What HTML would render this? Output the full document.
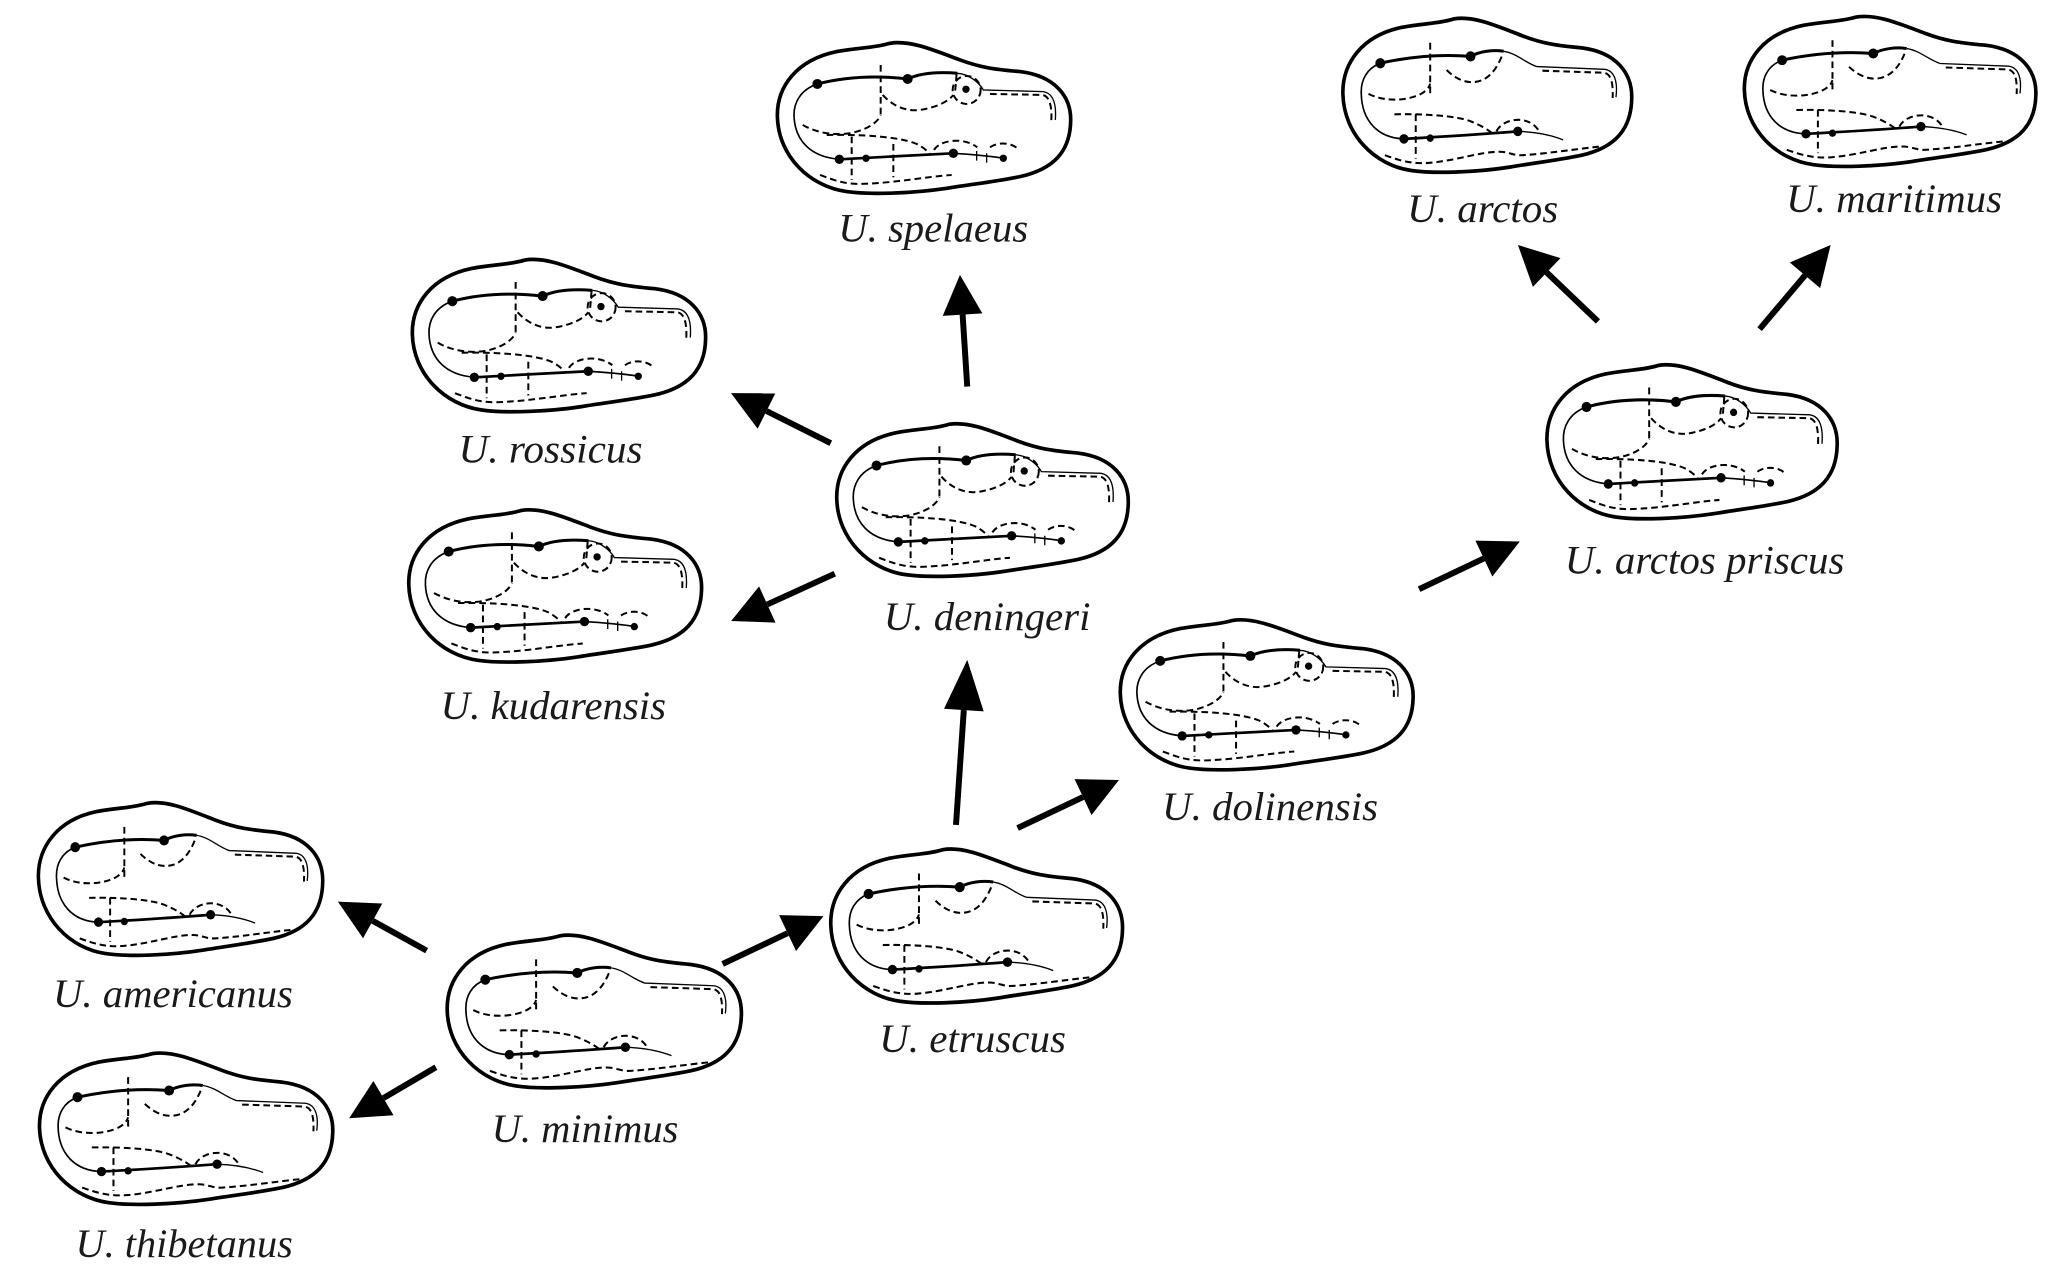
<!DOCTYPE html>
<html>
<head>
<meta charset="utf-8">
<style>
  html, body { margin: 0; padding: 0; background: #ffffff; }
  body { width: 2067px; height: 1264px; overflow: hidden; }
  svg { display: block; }
  .d { fill: none; stroke: #000; stroke-width: 6; stroke-dasharray: 20 12; }
  .lbl { font-family: "Liberation Serif", "DejaVu Serif", "Noto Serif CJK SC", serif; font-style: italic; font-size: 30.7px; fill: #1a1a1a; }
</style>
</head>
<body>
<svg width="2067" height="1264" viewBox="0 0 1560 954" preserveAspectRatio="none" xmlns="http://www.w3.org/2000/svg">
  <defs>
    <g id="tA">
      <path fill="#fff" stroke="#000" stroke-width="11" d="M52,230 C50,140 110,60 230,35 C300,22 340,25 390,10 C450,0 520,30 600,60 C660,82 700,88 780,95 C885,108 935,170 932,245 C930,335 880,388 780,410 C700,426 640,432 560,445 C460,460 330,465 260,455 C150,440 55,350 52,230 Z"/>
      <g fill="none" stroke="#000">
        <path stroke-width="5" d="M172,132 C120,150 100,190 102,230 C105,300 150,352 240,358"/>
        <path stroke-width="9" d="M172,132 C250,112 340,105 443,117 C480,100 530,95 592,100"/>
        <path stroke-width="4" d="M592,100 C625,102 655,125 670,150 L850,155 C880,160 890,190 886,240"/>
        <path stroke-width="8" d="M240,358 C350,352 480,345 580,340"/>
        <path stroke-width="5" d="M580,340 C650,344 700,350 735,355"/>
        <path stroke-width="4" d="M650,333 L650,362 M680,340 L680,368"/>
      </g>
      <path class="d" d="M690,162 L848,165 C870,170 876,200 874,242"/>
      <circle class="d" cx="620" cy="150" r="42"/>
      <path class="d" d="M362,75 L362,230"/>
      <path class="d" d="M368,165 C400,200 440,215 480,210 C530,202 565,185 580,165"/>
      <path class="d" d="M590,100 L585,160"/>
      <path class="d" d="M128,255 C180,285 250,290 300,272 C340,258 358,238 362,225"/>
      <path class="d" d="M200,285 C300,283 420,290 470,312 C490,322 505,335 512,345"/>
      <path class="d" d="M522,330 C540,300 610,290 652,322"/>
      <path class="d" d="M690,322 C715,305 752,308 772,325"/>
      <path class="d" d="M275,290 L275,420 M400,312 L400,412"/>
      <path class="d" d="M180,405 C220,420 250,432 300,432 C400,430 500,410 575,405"/>
      <g fill="#000">
        <circle cx="172" cy="132" r="15"/>
        <circle cx="443" cy="117" r="15"/>
        <circle cx="618" cy="148" r="11"/>
        <circle cx="238" cy="358" r="14"/>
        <circle cx="318" cy="355" r="11"/>
        <circle cx="580" cy="340" r="14"/>
        <circle cx="730" cy="355" r="11"/>
      </g>
    </g>
    <g id="tB">
      <path fill="#fff" stroke="#000" stroke-width="11" d="M52,230 C50,140 110,60 230,35 C300,22 340,25 390,10 C450,0 520,30 600,60 C660,82 700,88 780,95 C885,108 935,170 932,245 C930,335 880,388 780,410 C700,426 640,432 560,445 C460,460 330,465 260,455 C150,440 55,350 52,230 Z"/>
      <g fill="none" stroke="#000">
        <path stroke-width="5" d="M166,140 C125,155 106,190 108,230 C110,310 160,360 238,362"/>
        <path stroke-width="9" d="M166,140 C250,122 340,112 441,120 C470,105 510,100 542,105"/>
        <path stroke-width="4" d="M542,105 C580,110 610,140 643,150 L850,158 C880,162 890,195 884,240"/>
        <path stroke-width="8" d="M238,362 C350,356 480,348 585,340"/>
        <path stroke-width="4" d="M585,340 C640,342 690,352 723,365"/>
      </g>
      <path class="d" d="M660,162 L848,168 C870,172 876,200 874,242"/>
      <path class="d" d="M318,80 L318,240"/>
      <path class="d" d="M368,160 C400,190 430,198 455,195 C500,190 525,150 540,110"/>
      <path class="d" d="M130,230 C180,255 250,250 290,230 C305,222 315,212 318,200"/>
      <path class="d" d="M209,290 C300,288 400,295 440,310 C480,325 500,340 513,350"/>
      <path class="d" d="M520,340 C540,300 620,290 650,340"/>
      <path class="d" d="M274,290 L274,420"/>
      <path class="d" d="M180,410 C230,428 270,437 320,432 C400,425 470,400 528,400 C560,400 570,412 600,410 C680,405 760,392 832,385"/>
      <g fill="#000">
        <circle cx="166" cy="140" r="15"/>
        <circle cx="441" cy="120" r="15"/>
        <circle cx="238" cy="362" r="14"/>
        <circle cx="318" cy="360" r="11"/>
        <circle cx="585" cy="340" r="14"/>
      </g>
    </g>
  </defs>

  <rect x="0" y="0" width="1560" height="954" fill="#ffffff"/>

  <use href="#tA" transform="translate(586.2,31.4) scale(0.2515,0.2516) translate(-50,-5)"/>
  <use href="#tB" transform="translate(1013,13) scale(0.2477,0.2571) translate(-50,-5)"/>
  <use href="#tB" transform="translate(1316,11.6) scale(0.25,0.2505) translate(-50,-5)"/>
  <use href="#tA" transform="translate(310.7,195) scale(0.2515,0.2543) translate(-50,-5)"/>
  <use href="#tA" transform="translate(631,319) scale(0.25,0.2549) translate(-50,-5)"/>
  <use href="#tA" transform="translate(308,384) scale(0.2511,0.2541) translate(-50,-5)"/>
  <use href="#tA" transform="translate(1167,274.5) scale(0.2489,0.2571) translate(-50,-5)"/>
  <use href="#tA" transform="translate(845,467) scale(0.2511,0.2505) translate(-50,-5)"/>
  <use href="#tB" transform="translate(28.5,605) scale(0.2438,0.2549) translate(-50,-5)"/>
  <use href="#tB" transform="translate(626.5,640) scale(0.2502,0.2571) translate(-50,-5)"/>
  <use href="#tB" transform="translate(337,705) scale(0.2523,0.2549) translate(-50,-5)"/>
  <use href="#tB" transform="translate(29.3,794) scale(0.2515,0.2527) translate(-50,-5)"/>

  <g stroke="#000" stroke-width="4.5" fill="none" stroke-linecap="butt">
    <line x1="322" y1="717.5" x2="281.3" y2="695"/>
    <line x1="329" y1="805.5" x2="289.4" y2="828.8"/>
    <line x1="545.4" y1="727.5" x2="594.4" y2="704.3"/>
    <line x1="721.5" y1="622.6" x2="727.4" y2="535.9"/>
    <line x1="768" y1="625" x2="817.4" y2="601.6"/>
    <line x1="627" y1="334.5" x2="578.5" y2="310.2"/>
    <line x1="630" y1="433" x2="579.1" y2="456.2"/>
    <line x1="730" y1="291.8" x2="726.5" y2="237.4"/>
    <line x1="1071" y1="444.7" x2="1119.9" y2="421.5"/>
    <line x1="1206" y1="242.6" x2="1167.3" y2="205.6"/>
    <line x1="1328" y1="248.4" x2="1362.3" y2="207.8"/>
  </g>
  <g fill="#000">
    <polygon points="255,680.5 288.5,681.9 274,708.1"/>
    <polygon points="263.5,844 281.8,815.9 297,841.7"/>
    <polygon points="621.5,691.4 600.8,717.8 588,690.7"/>
    <polygon points="730,498 742.4,536.9 712.5,534.9"/>
    <polygon points="844.5,588.7 823.8,615.1 811,588"/>
    <polygon points="551.7,296.7 585.2,296.8 571.8,323.6"/>
    <polygon points="551.8,468.7 572.9,442.6 585.3,469.9"/>
    <polygon points="724.5,207.5 741.4,236.5 711.5,238.4"/>
    <polygon points="1147,408.7 1126.3,435.1 1113.5,408"/>
    <polygon points="1145.6,184.9 1177.7,194.8 1156.9,216.5"/>
    <polygon points="1381.6,184.9 1373.7,217.5 1350.8,198.1"/>
  </g>

  <text class="lbl" x="632.6" y="182.4" textLength="143.4" lengthAdjust="spacingAndGlyphs">U. spelaeus</text>
  <text class="lbl" x="1062" y="167.5" textLength="114" lengthAdjust="spacingAndGlyphs">U. arctos</text>
  <text class="lbl" x="1348" y="160" textLength="163" lengthAdjust="spacingAndGlyphs">U. maritimus</text>
  <text class="lbl" x="346" y="349" textLength="139" lengthAdjust="spacingAndGlyphs">U. rossicus</text>
  <text class="lbl" x="667" y="475.5" textLength="156" lengthAdjust="spacingAndGlyphs">U. deningeri</text>
  <text class="lbl" x="332.5" y="542.6" textLength="170.2" lengthAdjust="spacingAndGlyphs">U. kudarensis</text>
  <text class="lbl" x="1181" y="433" textLength="211" lengthAdjust="spacingAndGlyphs">U. arctos priscus</text>
  <text class="lbl" x="877" y="619" textLength="163" lengthAdjust="spacingAndGlyphs">U. dolinensis</text>
  <text class="lbl" x="40" y="760" textLength="181" lengthAdjust="spacingAndGlyphs">U. americanus</text>
  <text class="lbl" x="663.5" y="794" textLength="141" lengthAdjust="spacingAndGlyphs">U. etruscus</text>
  <text class="lbl" x="371" y="862" textLength="141" lengthAdjust="spacingAndGlyphs">U. minimus</text>
  <text class="lbl" x="57" y="948.6" textLength="164" lengthAdjust="spacingAndGlyphs">U. thibetanus</text>
</svg>
</body>
</html>
